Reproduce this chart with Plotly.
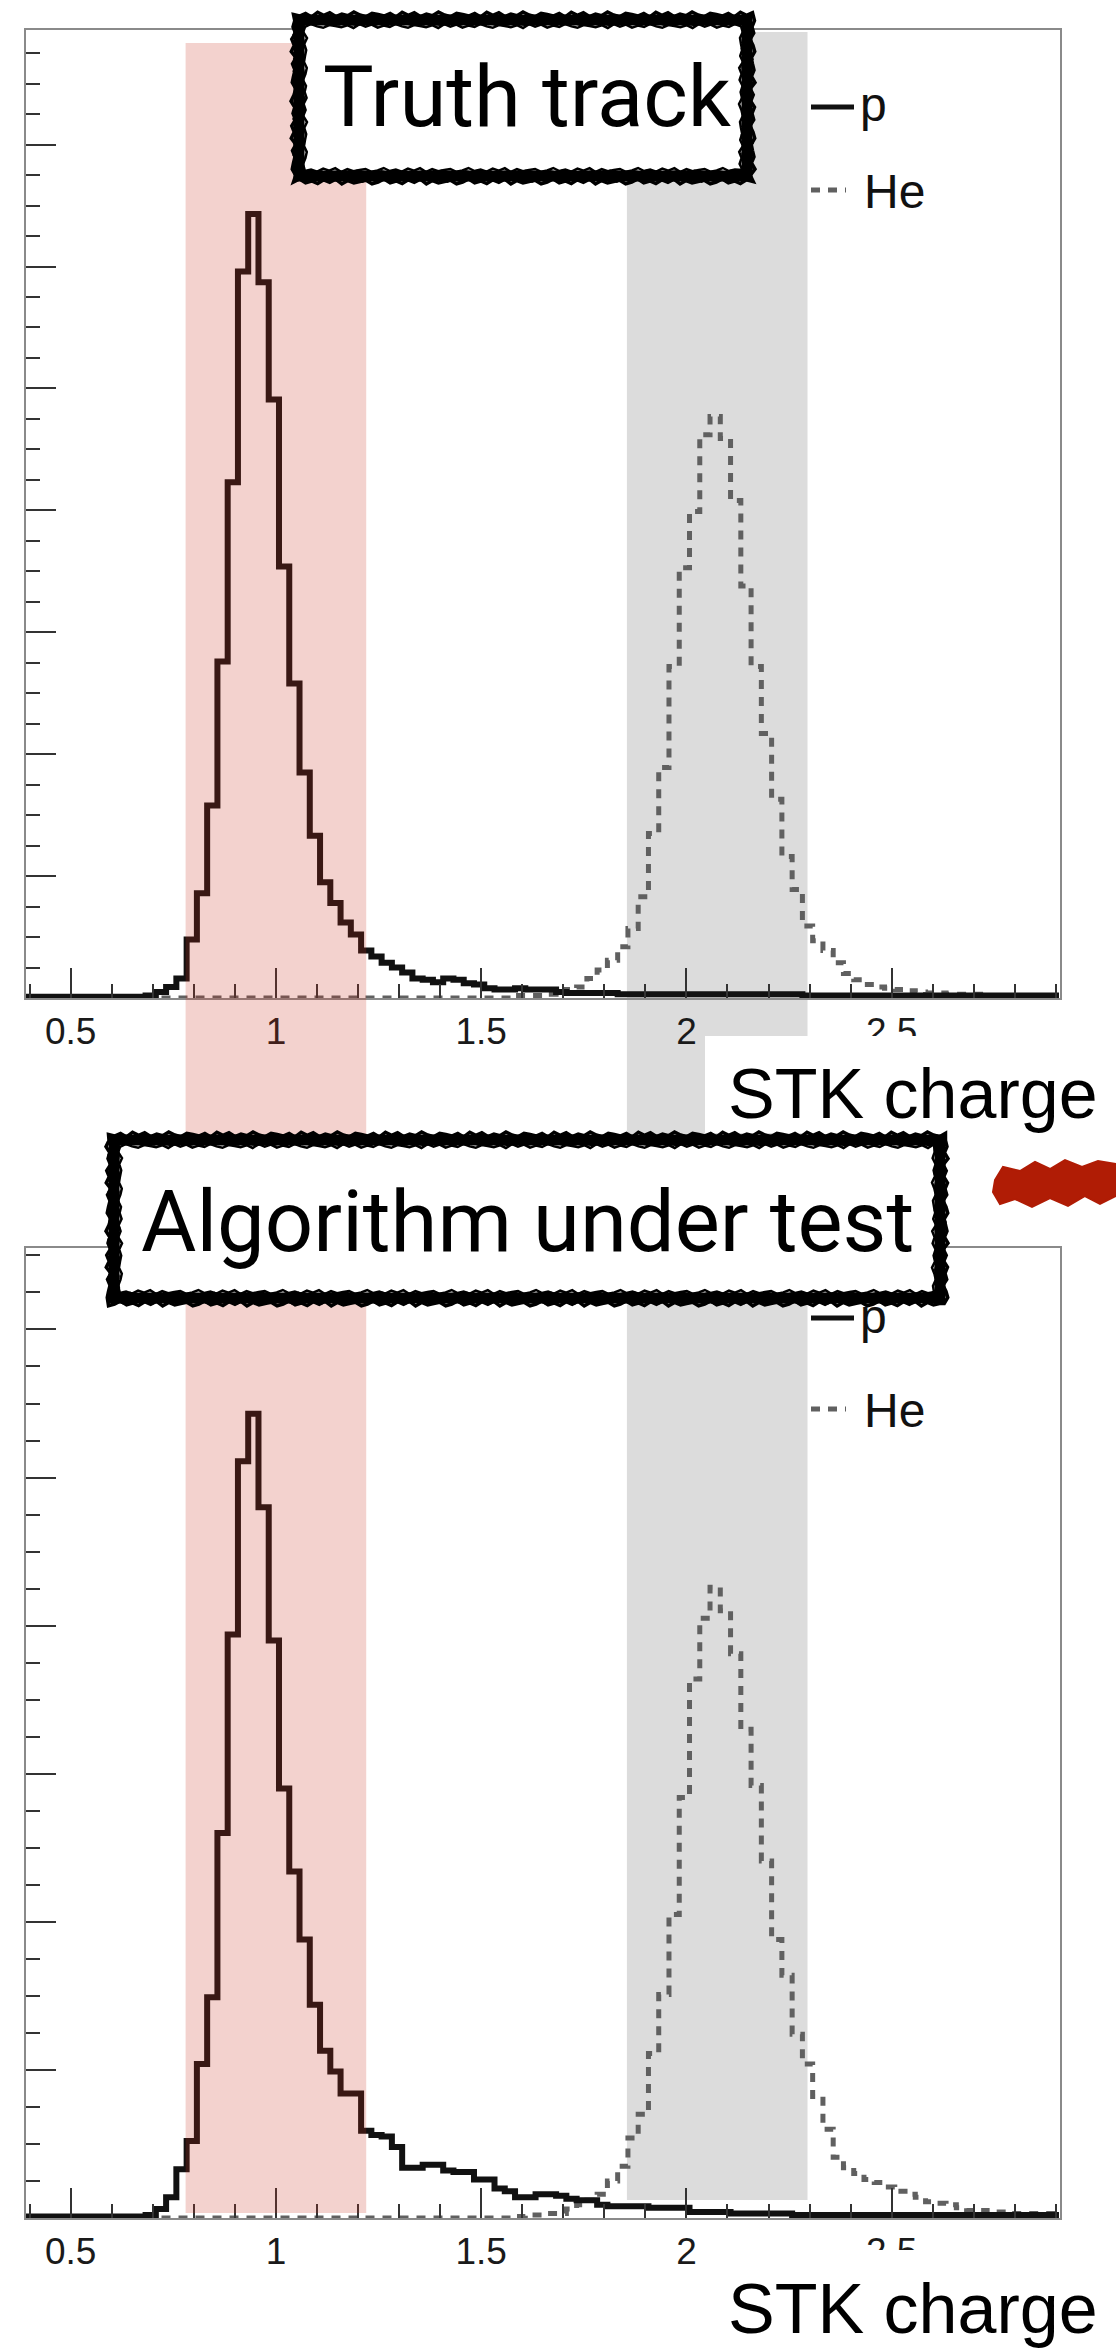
import plotly.graph_objects as go

W, H = 1116, 2351

# ---------------- data ----------------
BIN_START = 0.3825      # left edge of the first bin (STK charge)
BIN_WIDTH = 0.025
X_RANGE = [0.39, 2.91]
Y_RANGE_TOP = [0, 794]
Y_RANGE_BOTTOM = [0, 655]

pink_band = [0.78, 1.22]     # proton charge window
gray_band = [1.855, 2.295]   # helium charge window

titles = ["Truth track", "Algorithm under test"]
x_title = "STK charge"
legend_names = ["p", "He"]

p_truth = [
    1, 1, 1, 1, 1, 1, 1, 1, 1, 1, 1, 1,
    2, 5, 9, 16, 48, 86, 158, 276, 423, 596,
    643, 587, 491, 354, 258, 185, 133, 95, 78, 62,
    52, 39, 34, 29, 25, 21, 16, 15, 13, 16,
    15, 12, 11, 8, 7, 7, 8, 7, 7, 7,
    5, 4, 4, 4, 4, 4, 3, 3, 3, 3,
    3, 3, 3, 3, 3, 3, 3, 3, 3, 3,
    3, 3, 3, 3, 2, 2, 2, 2, 2, 2,
    2, 2, 2, 2, 2, 2, 2, 2, 2, 2,
    2, 2, 2, 2, 2, 2, 2, 2, 2,
]
he_truth = [
    0, 0, 0, 0, 0, 0, 0, 0, 0, 0, 0, 0, 0, 0, 0, 0,
    0, 0, 0, 0, 0, 0, 0, 0, 0, 0, 0, 0, 0, 0, 0, 0,
    0, 0, 0, 0, 0, 0, 0, 0, 0, 0, 0, 0, 0, 0, 0, 0,
    2, 2, 2, 3, 4, 7, 9, 16, 23, 31,
    42, 57, 83, 135, 189, 272, 353, 399, 462, 477,
    459, 408, 338, 272, 217, 163, 116, 89, 59, 47,
    39, 29, 20, 15, 11, 9, 8, 7, 6, 5,
    4, 4, 3, 3, 3, 3, 2, 2, 2, 2,
    2, 2, 2,
]
p_algo = [
    1, 1, 1, 1, 1, 1, 1, 1, 1, 1, 1, 1,
    2, 6, 14, 33, 52, 104, 149, 260, 394, 511,
    543, 480, 390, 290, 234, 188, 144, 113, 99, 84,
    84, 59, 56, 55, 48, 34, 34, 36, 36, 32,
    31, 31, 26, 26, 20, 18, 14, 14, 16, 16,
    15, 13, 12, 12, 9, 8, 8, 8, 8, 7,
    7, 7, 7, 4, 4, 4, 4, 3, 3, 3,
    3, 3, 3, 2, 2, 2, 2, 2, 2, 2,
    2, 2, 2, 2, 2, 2, 2, 2, 2, 2,
    2, 2, 2, 2, 2, 2, 2, 2, 2,
]
he_algo = [
    0, 0, 0, 0, 0, 0, 0, 0, 0, 0, 0, 0, 0, 0, 0, 0,
    0, 0, 0, 0, 0, 0, 0, 0, 0, 0, 0, 0, 0, 0, 0, 0,
    0, 0, 0, 0, 0, 0, 0, 0, 0, 0, 0, 0, 0, 0, 0, 0,
    1, 2, 2, 3, 3, 6, 9, 12, 16, 25,
    35, 54, 70, 111, 151, 205, 284, 364, 405, 426,
    410, 381, 330, 292, 241, 188, 164, 124, 104, 82,
    60, 41, 34, 30, 26, 24, 21, 18, 16, 14,
    11, 10, 9, 7, 5, 5, 4, 4, 3, 3,
    3, 3, 3,
]

# ---------------- helpers ----------------
def px(x):
    return x / W


def py(y):
    return 1 - y / H


def step_xy(vals):
    edges = [BIN_START + BIN_WIDTH * i for i in range(len(vals) + 1)]
    edges[0] = max(edges[0], X_RANGE[0])
    return edges, list(vals) + [vals[-1]]


JAG = [0, 0.6, -0.4, 1.0, -0.9, 0.3, -0.7, 0.8, -0.2, 0.5, -1.0, 0.2, 0.9, -0.5]


def jagged_path(x0, y0, x1, y1, amp, step, k0):
    pts = []
    k = k0

    def nxt():
        nonlocal k
        v = JAG[k % len(JAG)] * amp
        k += 1
        return v

    n = max(2, int((x1 - x0) / step))
    for i in range(n + 1):
        pts.append((x0 + (x1 - x0) * i / n, y0 + nxt()))
    m = max(2, int((y1 - y0) / step))
    for i in range(1, m + 1):
        pts.append((x1 + nxt(), y0 + (y1 - y0) * i / m))
    for i in range(1, n + 1):
        pts.append((x1 - (x1 - x0) * i / n, y1 + nxt()))
    for i in range(1, m):
        pts.append((x0 + nxt(), y1 - (y1 - y0) * i / m))
    return "M " + " L ".join(f"{px(a):.5f},{py(b):.5f}" for a, b in pts) + " Z"


def sketch_box(x0, y0, x1, y1):
    out = [
        dict(type="rect", xref="paper", yref="paper", layer="above",
             x0=px(x0 + 2), x1=px(x1 - 2), y0=py(y1 - 2), y1=py(y0 + 2),
             fillcolor="white", line=dict(width=0)),
        dict(type="rect", xref="paper", yref="paper", layer="above",
             x0=px(x0 + 7), x1=px(x1 - 7), y0=py(y1 - 7), y1=py(y0 + 7),
             fillcolor="rgba(0,0,0,0)", line=dict(color="black", width=11)),
    ]
    for inset, amp, w, k0 in [(1.5, 2.5, 3.5, 0), (4, 2.2, 3, 5), (13, 2.0, 2.5, 9), (11, 1.5, 2, 3)]:
        out.append(dict(type="path", xref="paper", yref="paper", layer="above",
                        path=jagged_path(x0 + inset, y0 + inset, x1 - inset, y1 - inset, amp, 6, k0),
                        line=dict(color="black", width=w)))
    return out


# ---------------- figure ----------------
fig = go.Figure()

P_COLOR = "#111111"
HE_COLOR = "#606060"
HE_DASH = "9px,8px"

for vals_he, vals_p, xa, ya in [(he_truth, p_truth, "x", "y"), (he_algo, p_algo, "x2", "y2")]:
    xs, ys = step_xy(vals_he)
    fig.add_trace(go.Scatter(x=xs, y=ys, mode="lines", line_shape="hv", xaxis=xa, yaxis=ya,
                             line=dict(color=HE_COLOR, width=5, dash=HE_DASH),
                             name=legend_names[1], showlegend=False, hoverinfo="skip"))
    xs, ys = step_xy(vals_p)
    fig.add_trace(go.Scatter(x=xs, y=ys, mode="lines", line_shape="hv", xaxis=xa, yaxis=ya,
                             line=dict(color=P_COLOR, width=6),
                             name=legend_names[0], showlegend=False, hoverinfo="skip"))

AX_LINE = "#8a8a8a"
TICK_C = "#333333"
tickfont = dict(family="Liberation Sans, Arial, sans-serif", size=37, color="#1a1a1a")

xdom = [25.5 / W, 1060 / W]
common_x = dict(range=X_RANGE, domain=xdom, showline=True, linecolor=AX_LINE, linewidth=2,
                mirror=True, ticks="inside", ticklen=30, tickwidth=2, tickcolor=TICK_C,
                tick0=0, dtick=0.5, showgrid=False, zeroline=False, tickfont=tickfont,
                ticklabelstandoff=0,
                minor=dict(ticks="inside", dtick=0.1, ticklen=14, tickwidth=2, tickcolor=TICK_C,
                           showgrid=False))
common_y = dict(showline=True, linecolor=AX_LINE, linewidth=2, mirror=True, ticks="inside",
                ticklen=30, tickwidth=2, tickcolor=TICK_C, tick0=0, dtick=100,
                showticklabels=False, showgrid=False, zeroline=False,
                minor=dict(ticks="inside", dtick=25, ticklen=14, tickwidth=2, tickcolor=TICK_C,
                           showgrid=False))

fig.update_layout(
    width=W, height=H, margin=dict(l=0, r=0, t=0, b=0),
    paper_bgcolor="white", plot_bgcolor="rgba(0,0,0,0)",
    showlegend=False,
    xaxis=dict(anchor="y", **common_x),
    yaxis=dict(anchor="x", domain=[py(998), py(30)], range=Y_RANGE_TOP, **common_y),
    xaxis2=dict(anchor="y2", **common_x),
    yaxis2=dict(anchor="x2", domain=[py(2218), py(1248)], range=Y_RANGE_BOTTOM, **common_y),
)

shapes = []
# grey helium window (behind everything)
shapes.append(dict(type="rect", xref="x", yref="paper", layer="below",
                   x0=gray_band[0], x1=gray_band[1], y0=py(2200), y1=py(32),
                   fillcolor="#dcdcdc", line=dict(width=0)))
# pink proton window (tints what is underneath)
shapes.append(dict(type="rect", xref="x", yref="paper", layer="above",
                   x0=pink_band[0], x1=pink_band[1], y0=py(2213), y1=py(43),
                   fillcolor="rgba(200,50,30,0.22)", line=dict(width=0)))

# white boxes behind the axis titles
shapes.append(dict(type="rect", xref="paper", yref="paper", layer="above",
                   x0=px(705), x1=px(1116), y0=py(1133), y1=py(1036),
                   fillcolor="white", line=dict(width=0)))
shapes.append(dict(type="rect", xref="paper", yref="paper", layer="above",
                   x0=px(705), x1=px(1116), y0=py(2351), y1=py(2250),
                   fillcolor="white", line=dict(width=0)))

# sketchy title boxes
shapes += sketch_box(292, 13, 754, 183)
shapes += sketch_box(107, 1133, 947, 1305)

# red scribble
scribble = [(995, 1180), (1003, 1167), (1020, 1171), (1035, 1162), (1050, 1169), (1065, 1160),
            (1082, 1167), (1098, 1161), (1116, 1164), (1116, 1196), (1100, 1204), (1085, 1196),
            (1068, 1206), (1050, 1198), (1032, 1207), (1015, 1199), (1000, 1204), (993, 1192)]
shapes.append(dict(type="path", xref="paper", yref="paper", layer="above",
                   path="M " + " L ".join(f"{px(a):.5f},{py(b):.5f}" for a, b in scribble) + " Z",
                   fillcolor="#b01c05", line=dict(color="#b01c05", width=2)))

# legend samples
for yp, yhe in [(107, 190), (1318, 1409)]:
    shapes.append(dict(type="line", xref="paper", yref="paper", layer="above",
                       x0=px(811), x1=px(854), y0=py(yp), y1=py(yp),
                       line=dict(color=P_COLOR, width=5)))
    shapes.append(dict(type="line", xref="paper", yref="paper", layer="above",
                       x0=px(811), x1=px(846), y0=py(yhe), y1=py(yhe),
                       line=dict(color=HE_COLOR, width=5, dash=HE_DASH)))

fig.update_layout(shapes=shapes)

title_font = dict(family="Roboto, sans-serif", size=85, color="black")
leg_font = dict(family="Liberation Sans, Arial, sans-serif", size=48, color="#111111")
xt_font = dict(family="Liberation Sans, Arial, sans-serif", size=70, color="black")

ann = [
    dict(text=titles[0], x=px(527), y=py(97), font=title_font, xanchor="center", yanchor="middle"),
    dict(text=titles[1], x=px(527), y=py(1222), font=title_font, xanchor="center", yanchor="middle"),
    dict(text=x_title, x=px(913), y=py(1094), font=xt_font, xanchor="center", yanchor="middle"),
    dict(text=x_title, x=px(913), y=py(2309), font=xt_font, xanchor="center", yanchor="middle"),
    dict(text=legend_names[0], x=px(858), y=py(104), font=leg_font, xanchor="left", yanchor="middle"),
    dict(text=legend_names[1], x=px(862), y=py(192), font=leg_font, xanchor="left", yanchor="middle"),
    dict(text=legend_names[0], x=px(858), y=py(1316), font=leg_font, xanchor="left", yanchor="middle"),
    dict(text=legend_names[1], x=px(862), y=py(1410), font=leg_font, xanchor="left", yanchor="middle"),
]
for a in ann:
    a.update(xref="paper", yref="paper", showarrow=False)
fig.update_layout(annotations=ann)

fig.write_html("out.html")
